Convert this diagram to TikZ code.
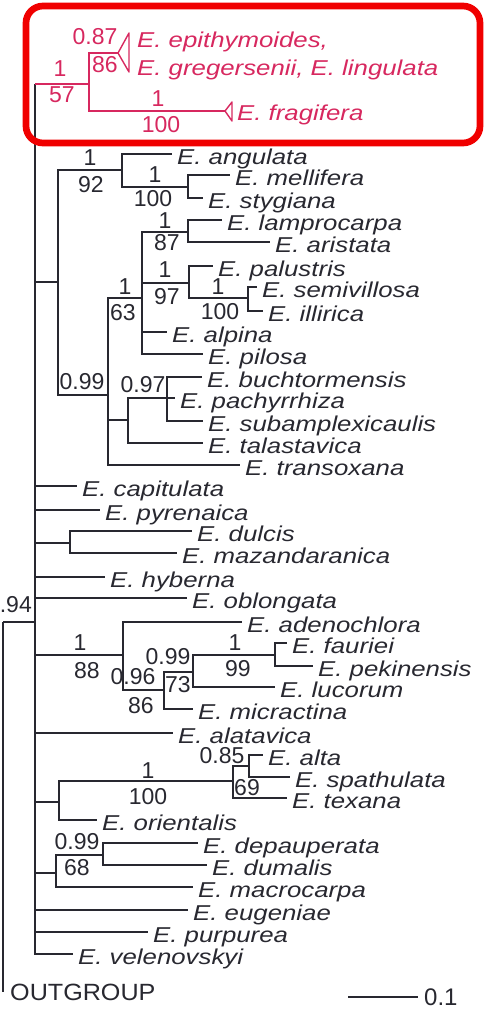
\documentclass[tikz,border=0pt]{standalone}
\usepackage{fontspec}
\setmainfont{Liberation Sans}
\newfontfamily\leaffont[FakeStretch=1.2]{Liberation Sans}
\newfontfamily\rootfont[FakeStretch=1.07]{Liberation Sans}
\definecolor{treeline}{RGB}{40,40,48}
\definecolor{cladered}{RGB}{215,40,95}
\definecolor{boxred}{RGB}{240,0,0}

\begin{document}
\begin{tikzpicture}[
  x=1pt, y=-1pt,
  branch/.style={draw=treeline, line width=1.4pt},
  redbranch/.style={draw=cladered, line width=1.4pt},
  leaftext/.style={anchor=base west, inner sep=0pt, text=treeline, font=\leaffont\itshape\fontsize{21.5}{24}\selectfont},
  leaf/.style={leaftext, xshift=5pt, yshift=-10pt},
  redtext/.style={leaftext, text=cladered},
  support/.style={inner sep=0pt, text=treeline, font=\fontsize{23}{26}\selectfont},
  redsupport/.style={support, text=cladered},
  frame/.style={draw=boxred, line width=6.7pt, rounded corners=17pt}
]
\useasboundingbox (0,0) rectangle (484,1009);

% Root and outgroup
\coordinate (root) at (3,622);
\coordinate (ingrp) at (35,622);
\coordinate (outg) at (3,992);
\node[leaftext, font=\rootfont\fontsize{23.5}{26}\selectfont, xshift=7pt, yshift=-8pt] (outlbl) at (outg) {OUTGROUP};

% Internal nodes
\coordinate (rc) at (89,84);
\coordinate (n58) at (58,282);
\coordinate (n92) at (122,170);
\coordinate (nms) at (188,187);
\coordinate (nB) at (108,395);
\coordinate (nC) at (142,298);
\coordinate (nD) at (188,232);
\coordinate (nE) at (189,283);
\coordinate (nF) at (248,298);
\coordinate (nG) at (128,420);
\coordinate (nH) at (167,398);
\coordinate (n70) at (70,543);
\coordinate (nJ) at (123,655);
\coordinate (nK) at (164,690);
\coordinate (nL) at (193,672);
\coordinate (nM) at (275,655);
\coordinate (nN) at (59,802);
\coordinate (nO) at (233,781);
\coordinate (nP) at (249,766);
\coordinate (nR) at (56,873);
\coordinate (nQ) at (103,855);

% Leaves
\foreach \id/\tx/\ty/\nm in {ang/172/154/angulata, mel/230/175/mellifera, sty/203/198/stygiana,
  lam/222/220/lamprocarpa, ari/270/242/aristata, pal/213/266/palustris, sem/257/287/semivillosa,
  ill/263/311/illirica, alp/167/332/alpina, pil/203/354/pilosa, buc/202/377/buchtormensis,
  pac/175/398/pachyrrhiza, sub/203/421/subamplexicaulis, tal/203/443/talastavica,
  tra/240/465/transoxana, cap/77/486/capitulata, pyr/100/510/pyrenaica, dul/192/531/dulcis,
  maz/177/553/mazandaranica, hyb/105/577/hyberna, obl/187/598/oblongata, ade/242/622/adenochlora,
  fau/287/643/fauriei, pek/313/666/pekinensis, luc/275/687/lucorum, mic/193/709/micractina,
  ala/173/733/alatavica, alt/263/755/alta, spa/290/777/spathulata, tex/287/798/texana,
  ori/97/820/orientalis, dep/198/843/depauperata, dum/207/865/dumalis, mac/193/887/macrocarpa,
  eug/188/910/eugeniae, pur/148/932/purpurea, vel/73/954/velenovskyi} {
  \coordinate (\id) at (\tx,\ty);
  \node[leaf] (\id-lbl) at (\id) {E. \nm};
}

% Branches
\draw[branch] (root) -- (ingrp);
\draw[branch] (root) -- (outg);
\draw[branch] (ingrp) -- (ingrp |- rc);
\foreach \p/\c in {ingrp/n58, ingrp/cap, ingrp/pyr, ingrp/n70, ingrp/hyb, ingrp/obl, ingrp/nJ,
  ingrp/ala, ingrp/nN, ingrp/nR, ingrp/eug, ingrp/pur, ingrp/vel,
  n58/n92, n58/nB, n92/ang, n92/nms, nms/mel, nms/sty,
  nB/nC, nB/nG, nB/tra, nC/nD, nC/nE, nC/alp, nC/pil, nD/lam, nD/ari, nE/pal, nE/nF,
  nF/sem, nF/ill, nG/nH, nG/tal, nH/buc, nH/pac, nH/sub,
  n70/dul, n70/maz, nJ/ade, nJ/nK, nK/nL, nK/mic, nL/nM, nL/luc, nM/fau, nM/pek,
  nN/nO, nN/ori, nO/nP, nO/tex, nP/alt, nP/spa, nR/nQ, nR/mac, nQ/dep, nQ/dum}
  \draw[branch] (\p) |- (\c);

% Support values
\foreach \id/\px/\py/\val in {s92a/90/158/1, s92b/91/185/92, s100a/155/175/1, s100b/153/199/100,
  s87a/165/221/1, s87b/167/243/87, s97a/165/270/1, s97b/167/297/97, s63a/125/287/1, s63b/123/313/63,
  s100c/218/287/1, s100d/220/312/100, s099a/82/382/0.99, s097/143/385/0.97,
  s88a/80/643/1, s88b/87/671/88, s096/133/677/0.96, s86/141/706/86,
  s099b/168/657/0.99, s73/178/685/73, s99a/235/643/1, s99b/238/669/99,
  s100e/148/771/1, s100f/148/797/100, s085/222/756/0.85, s69/247/788/69,
  s099c/77/842/0.99, s68/77/868/68}
  \node[support] (\id) at (\px,\py) {\val};
\node[support, anchor=east] (s94) at (32,605) {.94};

% Highlighted clade
\coordinate (tri1) at (118,53);
\coordinate (tri2) at (225,111);
\draw[redbranch] (ingrp |- rc) -- (rc);
\draw[redbranch] (rc) |- (tri1);
\draw[redbranch] (rc) |- (tri2);
\draw[redbranch, line join=round] (tri1) -- ++(11,-20) -- ++(0,39) -- cycle;
\draw[redbranch, line join=round] (tri2) -- ++(7,-9) -- ++(0,19) -- cycle;
\node[redtext] (epi) at (137,47) {E. epithymoides,};
\node[redtext] (gre) at (137,75) {E. gregersenii, E. lingulata};
\node[redtext] (fra) at (237,120) {E. fragifera};
\foreach \id/\px/\py/\val in {r087/95/37/0.87, r86/105/65/86, r1a/60/69/1, r57/62/95/57,
  r1b/158/99/1, r100/161/125/100}
  \node[redsupport] (\id) at (\px,\py) {\val};

% Scale bar
\coordinate (sb0) at (348,997);
\coordinate (sb1) at (418,997);
\draw[branch] (sb0) -- (sb1);
\node[support, anchor=base west, font=\fontsize{24}{26}\selectfont, xshift=6pt, yshift=-8.5pt] (sblbl) at (sb1) {0.1};

% Frame round the clade
\draw[frame] (26,6) rectangle (480,143);

\end{tikzpicture}
\end{document}
